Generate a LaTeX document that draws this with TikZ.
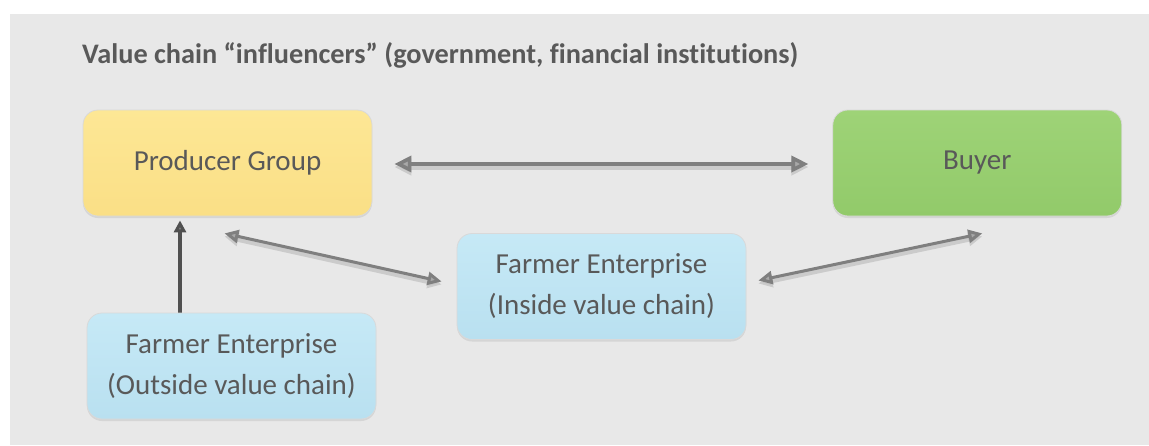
\documentclass[tikz,border=0pt]{standalone}
\usepackage{fontspec}
\setmainfont{Carlito}[Ligatures=NoCommon]
\usepackage{xcolor}
\usepackage{tikz}
\usetikzlibrary{positioning,arrows.meta,shadows}
\pgfdeclarelayer{nodelayer}
\pgfdeclarelayer{edgelayer}
\pgfsetlayers{main,edgelayer,nodelayer}
\definecolor{panel}{HTML}{E8E8E8}
\definecolor{ink}{HTML}{595959}
\definecolor{yellowtop}{HTML}{FDE795}
\definecolor{yellowbot}{HTML}{FADF86}
\definecolor{greentop}{HTML}{9ED377}
\definecolor{greenbot}{HTML}{92CA6A}
\definecolor{bluetop}{HTML}{C6E9F6}
\definecolor{bluebot}{HTML}{B9E0F0}
\definecolor{linkgray}{HTML}{7F7F7F}
\definecolor{tipgray}{HTML}{A8A8A8}
\tikzstyle{heading}=[text=ink, font=\fontsize{28.3}{34}\selectfont\bfseries, inner sep=0pt]
\tikzstyle{chain box}=[rounded corners=15pt, minimum width=289pt, minimum height=106pt, inner sep=0pt, align=center, text=ink, font=\fontsize{29}{41}\selectfont, draw=white!70!gray, line width=0.8pt, drop shadow={shadow xshift=0pt, shadow yshift=-2pt, opacity=0.18}]
\tikzstyle{producer}=[chain box, top color=yellowtop, bottom color=yellowbot]
\tikzstyle{buyer}=[chain box, top color=greentop, bottom color=greenbot]
\tikzstyle{farmer}=[chain box, top color=bluetop, bottom color=bluebot]
\tikzstyle{link_edge}=[draw=linkgray, line width=3.6pt, {Triangle[length=17pt,width=16pt,fill=tipgray]}-{Triangle[length=17pt,width=16pt,fill=tipgray]}, preaction={draw=black, opacity=0.12, line width=5pt, transform canvas={yshift=-3pt}}]
\tikzstyle{slim_edge}=[link_edge, line width=3pt, {Triangle[length=14pt,width=13pt,fill=tipgray]}-{Triangle[length=14pt,width=13pt,fill=tipgray]}]
\tikzstyle{feed_edge}=[draw=ink!90!black, line width=3.5pt, -{Triangle[length=12pt,width=12pt,fill=gray]}]

\begin{document}
\begin{tikzpicture}[x=1pt, y=-1pt]
    \useasboundingbox (0,0) rectangle (1149,445);
    \fill[panel] (10,14) rectangle (1149,445);
    \begin{pgfonlayer}{nodelayer}
        \node[style=heading, anchor=base west] (title) at (82,63) {Value chain “influencers” (government, financial institutions)};
        \node[style=producer] (group) at (227.5,163) {Producer Group};
        \node[style=buyer, right=460pt of group] (buyer) {Buyer};
        \node[style=farmer] (inside) at (601.5,286.5) {Farmer Enterprise\\(Inside value chain)};
        \node[style=farmer] (outside) at (231.5,366) {Farmer Enterprise\\(Outside value chain)};
    \end{pgfonlayer}
    \begin{pgfonlayer}{edgelayer}
        \draw[style={link_edge}] ([xshift=22pt,yshift=-1pt]group.east) -- ([xshift=-24pt,yshift=-1pt]buyer.west);
        \draw[style={slim_edge}] ([xshift=-3pt,yshift=-17pt]group.south) -- ([xshift=-15pt,yshift=5pt]inside.west);
        \draw[style={slim_edge}] ([xshift=12pt,yshift=6pt]inside.east) -- ([xshift=5pt,yshift=-17pt]buyer.south);
        \draw[style={feed_edge}] ([xshift=-51.5pt]outside.north) -- ([xshift=-47.5pt,yshift=-4pt]group.south);
    \end{pgfonlayer}
\end{tikzpicture}
\end{document}
